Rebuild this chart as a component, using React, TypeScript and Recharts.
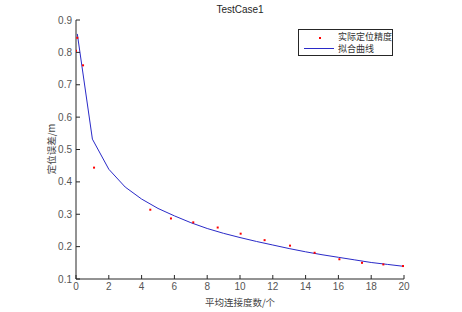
import { ComposedChart, Line, Scatter, XAxis, YAxis } from "recharts";

const measuredX = [0, 0.08, 0.43, 1.1, 4.53, 5.79, 7.15, 8.64, 10.04, 11.5, 13.05, 14.55, 16.06, 17.44, 18.74, 19.94];
const measuredY = [0.805, 0.845, 0.76, 0.444, 0.314, 0.287, 0.275, 0.259, 0.24, 0.22, 0.203, 0.181, 0.161, 0.15, 0.145, 0.14];

const fitX = [0.08, 1, 2, 3, 4, 5, 6, 7, 8, 9, 10, 11, 12, 13, 14, 15, 16, 17, 18, 19, 20];
const fitY = [0.857, 0.532, 0.439, 0.384, 0.347, 0.318, 0.295, 0.274, 0.256, 0.241, 0.228, 0.216, 0.205, 0.194, 0.184, 0.175, 0.167, 0.159, 0.151, 0.145, 0.139];

const xTicks = [0, 2, 4, 6, 8, 10, 12, 14, 16, 18, 20];
const yTicks = [0.1, 0.2, 0.3, 0.4, 0.5, 0.6, 0.7, 0.8, 0.9];

const title = "TestCase1";
const xLabel = "平均连接度数/个";
const yLabel = "定位误差/m";
const seriesNames = ["实际定位精度", "拟合曲线"];

const measured = measuredX.map((x, i) => ({ x, y: measuredY[i] }));
const fit = fitX.map((x, i) => ({ x, y: fitY[i] }));

const axisColor = "#262626";
const tickStyle = { fill: "#555", fontSize: 10, fontFamily: "Liberation Sans, Arial, sans-serif" };
const cjkFont = "'Noto Sans CJK SC', sans-serif";

function Dot(props: any) {
  const { cx, cy } = props;
  return <rect x={cx - 1} y={cy - 1} width={2} height={2} fill="#ff0000" />;
}

function LegendBox() {
  return (
    <div
      style={{
        position: "absolute",
        left: 298,
        top: 29,
        border: "1px solid #262626",
        background: "#fff",
        width: 95,
        height: 27,
        boxSizing: "border-box",
        fontFamily: cjkFont,
        fontSize: 9,
        color: "#333",
        whiteSpace: "nowrap",
      }}
    >
      <div style={{ position: "absolute", left: 20, top: 7, width: 2, height: 2, background: "#ff0000" }} />
      <div style={{ position: "absolute", left: 39, top: 1, lineHeight: "12px" }}>{seriesNames[0]}</div>
      <div style={{ position: "absolute", left: 5, top: 18, width: 30, height: 1, background: "#2a2ac8" }} />
      <div style={{ position: "absolute", left: 39, top: 13, lineHeight: "12px" }}>{seriesNames[1]}</div>
    </div>
  );
}

export default function App() {
  return (
    <div style={{ position: "absolute", left: 0, top: 0, width: 462, height: 312, background: "#fff" }}>
      <ComposedChart width={462} height={312} margin={{ top: 20, right: 58, bottom: 0, left: 0 }}>
        <XAxis
          xAxisId="b"
          dataKey="x"
          type="number"
          domain={[0, 20]}
          ticks={xTicks}
          allowDataOverflow
          height={33}
          stroke={axisColor}
          tickSize={-4}
          tickMargin={8}
          tick={tickStyle}
        />
        <XAxis
          xAxisId="t"
          orientation="top"
          dataKey="x"
          type="number"
          domain={[0, 20]}
          ticks={xTicks}
          height={0}
          stroke={axisColor}
          tickSize={-4}
          tick={false}
        />
        <YAxis
          yAxisId="l"
          dataKey="y"
          type="number"
          domain={[0.1, 0.9]}
          ticks={yTicks}
          allowDataOverflow
          width={76}
          stroke={axisColor}
          tickSize={-4}
          tickMargin={8}
          tick={tickStyle}
          tickFormatter={(v: number) => v.toFixed(1)}
        />
        <YAxis
          yAxisId="r"
          orientation="right"
          dataKey="y"
          type="number"
          domain={[0.1, 0.9]}
          ticks={yTicks}
          width={0}
          stroke={axisColor}
          tickSize={-4}
          tick={false}
        />
        <Line
          xAxisId="b"
          yAxisId="l"
          data={fit}
          dataKey="y"
          type="linear"
          stroke="#2a2ac8"
          strokeWidth={1}
          dot={false}
          isAnimationActive={false}
        />
        <Scatter
          xAxisId="b"
          yAxisId="l"
          data={measured}
          dataKey="y"
          shape={<Dot />}
          isAnimationActive={false}
        />
      </ComposedChart>
      <LegendBox />
      <div
        style={{
          position: "absolute",
          left: 140,
          width: 200,
          top: 4,
          textAlign: "center",
          fontFamily: "Liberation Sans, Arial, sans-serif",
          fontSize: 10,
          color: "#262626",
        }}
      >
        {title}
      </div>
      <div
        style={{
          position: "absolute",
          left: 140,
          width: 200,
          top: 295,
          textAlign: "center",
          fontFamily: cjkFont,
          fontSize: 9.5,
          color: "#444",
        }}
      >
        {xLabel}
      </div>
      <div
        style={{
          position: "absolute",
          left: 0,
          width: 100,
          top: 142,
          textAlign: "center",
          fontFamily: cjkFont,
          fontSize: 9.5,
          color: "#444",
          transform: "translate(1px, 0) rotate(-90deg)",
          transformOrigin: "50px 7px",
        }}
      >
        {yLabel}
      </div>
    </div>
  );
}
